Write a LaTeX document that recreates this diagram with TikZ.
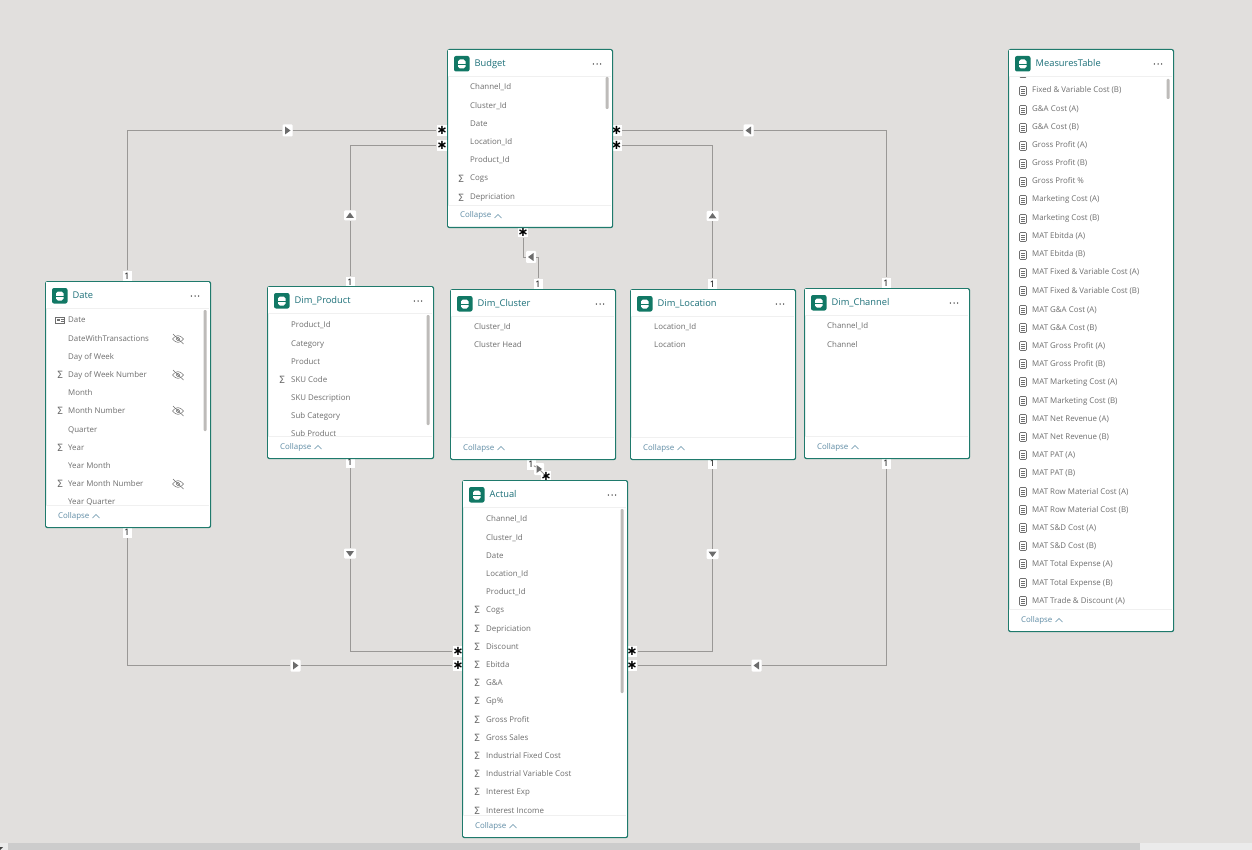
\documentclass[tikz,border=0pt]{standalone}
\usepackage{fontspec}
\setmainfont{Open Sans}
\newfontfamily\symfont{DejaVu Sans}
\definecolor{canvas}{HTML}{E1DFDD}
\definecolor{teal}{HTML}{1F7A6C}
\definecolor{iconteal}{HTML}{117865}
\definecolor{titlec}{HTML}{1B6F78}
\definecolor{rowc}{HTML}{6E6E6E}
\definecolor{linkc}{HTML}{9A9896}
\definecolor{barc}{HTML}{BDBBB9}
\definecolor{collc}{HTML}{5F8CA5}
\newcount\rc
\tikzset{
  x=1pt,y=-1pt,
  tblbox/.style={draw=teal,line width=1.2pt,fill=white,rounded corners=2pt,inner sep=0pt,anchor=north west},
  rowtext/.style={font=\fontsize{7.9}{9}\selectfont,text=rowc,inner sep=0pt,anchor=west,text height=6pt,text depth=2pt},
  titletext/.style={font=\fontsize{9.3}{11}\selectfont,text=titlec,inner sep=0pt,anchor=west,text height=7pt,text depth=2pt},
  colltext/.style={font=\fontsize{7.9}{9}\selectfont,text=collc,inner sep=0pt,anchor=west,text height=6pt,text depth=2pt},
  sigmatext/.style={font=\symfont\fontsize{10}{10}\selectfont,text=rowc,inner sep=0pt},
  rel/.style={draw=linkc,line width=0.9pt},
  onebadge/.style={fill=white,inner sep=0pt,minimum width=9pt,minimum height=11pt,font=\fontsize{9}{9}\selectfont,text=black},
  starbadge/.style={fill=white,inner sep=0pt,minimum width=10pt,minimum height=11pt,font=\symfont\bfseries\fontsize{13}{13}\selectfont,text=black},
  dirbox/.style={fill=white,inner sep=0pt,minimum width=10pt,minimum height=12pt,rounded corners=1pt},
  dirboxv/.style={fill=white,inner sep=0pt,minimum width=12pt,minimum height=10pt,rounded corners=1pt},
  tip/.style={fill=gray!85!black,draw=none},
  eyeline/.style={draw=rowc,line width=0.5pt},
}
\def\icnn#1#2{}
\def\icns#1#2{\global\advance\rc by 1 \node[sigmatext] (s\the\rc) at (#1,#2) {Σ};}
\def\icnc#1#2{%
  \draw[draw=rowc,line width=0.6pt,rounded corners=1pt] (#1-3.5,#2-4.5) rectangle (#1+3.5,#2+4.5);
  \draw[draw=rowc,line width=0.6pt] (#1-2,#2-2) -- (#1+2,#2-2) (#1-2,#2) -- (#1+2,#2) (#1-2,#2+2) -- (#1+2,#2+2);}
\def\icni#1#2{%
  \draw[draw=rowc,line width=0.6pt] (#1-4.5,#2-3) rectangle (#1+4.5,#2+3);
  \fill[rowc] (#1-3,#2-1.5) rectangle (#1-0.5,#2+1);
  \draw[draw=rowc,line width=0.5pt] (#1+0.5,#2-1) -- (#1+3.5,#2-1) (#1+0.5,#2+1) -- (#1+3.5,#2+1);}
% rows: text x, icon x, list y/icon/text
\newcommand\rowlist[3]{%
  \foreach \ry/\ric/\rtxt in {#3}{%
    \global\advance\rc by 1
    \node[rowtext] (r\the\rc) at (#1,\ry) {\rtxt};
    \csname icn\ric\endcsname{#2}{\ry}
  }}
\newcommand\eye[2]{%
  \draw[eyeline] (#1-5.5,#2) .. controls (#1-2,#2-4.5) and (#1+2,#2-4.5) .. (#1+5.5,#2) .. controls (#1+2,#2+4.5) and (#1-2,#2+4.5) .. (#1-5.5,#2);
  \draw[eyeline] (#1,#2) circle (1.7);
  \draw[eyeline] (#1-5,#2-5) -- (#1+5.5,#2+5);}
% box: name x1 y1 x2 y2
\newcommand\tblbox[5]{%
  \pgfmathsetmacro\bw{#4-#2}\pgfmathsetmacro\bh{#5-#3}
  \node[tblbox,minimum width=\bw pt,minimum height=\bh pt] (#1) at (#2,#3) {};}
% chrome: name x1 y1 x2 y2 title
\newcommand\tblchrome[6]{%
  \fill[white] (#2+1,#3+1) rectangle (#4-1,#3+27);
  \fill[white] (#2+1,#5-22) rectangle (#4-1,#5-1);
  \draw[draw=black!6,line width=0.6pt] (#2+1,#3+27) -- (#4-1,#3+27) (#2+1,#5-22) -- (#4-1,#5-22);
  \fill[iconteal,rounded corners=2pt] (#2+7,#3+7) rectangle (#2+22.5,#3+22.5);
  \fill[white,rounded corners=1.8pt] (#2+11,#3+10.5) rectangle (#2+18.5,#3+19.5);
  \draw[iconteal,line width=0.7pt] (#2+11,#3+15) -- (#2+18.5,#3+15);
  \node[titletext] (#1T) at (#2+27.5,#3+15) {#6};
  \foreach \dd in {-3.6,0,3.6} \fill[black!80] (#4-15+\dd,#3+15) circle (0.75);
  \node[colltext] (#1C) at (#2+13,#5-11) {Collapse};
  \draw[draw=collc,line width=0.5pt] (#2+47.5,#5-9) -- (#2+51,#5-12.5) -- (#2+54.5,#5-9);}
\newcommand\scrollb[3]{\fill[barc,rounded corners=1pt] (#1-1.5,#2) rectangle (#1+1.5,#3);}
\newcommand\tipR[2]{\fill[tip] (#1-2.5,#2-4) -- (#1+3,#2) -- (#1-2.5,#2+4) -- cycle;}
\newcommand\tipL[2]{\fill[tip] (#1+2.5,#2-4) -- (#1-3,#2) -- (#1+2.5,#2+4) -- cycle;}
\newcommand\tipU[2]{\fill[tip] (#1-4,#2+2.5) -- (#1,#2-3) -- (#1+4,#2+2.5) -- cycle;}
\newcommand\tipD[2]{\fill[tip] (#1-4,#2-2.5) -- (#1,#2+3) -- (#1+4,#2-2.5) -- cycle;}
\begin{document}
\begin{tikzpicture}
\useasboundingbox (0,0) rectangle (1252,850);
\fill[canvas] (0,0) rectangle (1252,850);
% bottom scroll bar
\fill[black!8] (0,843) rectangle (1252,850);
\fill[black!20] (8,843) rectangle (1140,850);
\fill[black!75] (0,847) -- (3,847) -- (0,850) -- cycle;

% badges
\node[starbadge] (bTL) at (442,130.5) {∗};
\node[starbadge] (bML) at (442,145.5) {∗};
\node[starbadge] (bTR) at (616.5,130.5) {∗};
\node[starbadge] (bMR) at (616.5,145.5) {∗};
\node[starbadge] (bB) at (523,232) {∗};
\node[onebadge] (dT) at (127,276) {1};
\node[onebadge] (dB) at (127,532.5) {1};
\node[onebadge] (pT) at (350,282) {1};
\node[onebadge] (pB) at (350,462.5) {1};
\node[onebadge] (cT) at (538,284) {1};
\node[onebadge] (lT) at (712.5,284) {1};
\node[onebadge] (lB) at (712.5,463.5) {1};
\node[onebadge] (hT) at (886,283) {1};
\node[onebadge] (hB) at (886,463) {1};
\node[starbadge] (aTL) at (458,651.5) {∗};
\node[starbadge] (aBL) at (458,665.5) {∗};
\node[starbadge] (aTR) at (632,651.5) {∗};
\node[starbadge] (aBR) at (632,665.5) {∗};
% direction boxes
\node[dirbox] (a1) at (287.5,130.5) {};
\node[dirboxv] (a2) at (350,215.5) {};
\node[dirbox] (a3) at (748.5,130.5) {};
\node[dirboxv] (a4) at (712.5,216) {};
\node[dirbox] (a5) at (531,257) {};
\node[dirbox] (a7) at (295.5,665.5) {};
\node[dirboxv] (a8) at (350,553.5) {};
\node[dirboxv] (a9) at (712.5,554) {};
\node[dirbox] (a10) at (756.5,665.5) {};
% connectors
\draw[rel] (dT) |- (a1); \draw[rel] (a1) -- (bTL);
\draw[rel] (pT) -- (a2); \draw[rel] (a2) |- (bML);
\draw[rel] (bTR) -- (a3); \draw[rel] (a3) -| (hT);
\draw[rel] (bMR) -| (a4); \draw[rel] (a4) -- (lT);
\draw[rel] (bB) |- (a5); \draw[rel] (a5) -| (cT);
\draw[rel] (dB) |- (a7); \draw[rel] (a7) -- (aBL);
\draw[rel] (pB) -- (a8); \draw[rel] (a8) |- (aTL);
\draw[rel] (lB) -- (a9); \draw[rel] (a9) |- (aTR);
\draw[rel] (hB) |- (a10); \draw[rel] (a10) -- (aBR);
\tipR{287.5}{130.5}\tipU{350}{215.5}\tipL{748.5}{130.5}\tipU{712.5}{216}\tipL{531}{257}
\tipR{295.5}{665.5}\tipD{350}{553.5}\tipD{712.5}{554}\tipL{756.5}{665.5}
% Dim_Cluster to Actual
\node[onebadge] (cB) at (531,464) {1};
\node[starbadge] (aT) at (546,476) {∗};
\node[dirbox] (a6) at (539,469) {};
\draw[rel] (cB) -- (a6);
\draw[rel] (a6) -- (aT);
\tipR{539}{469}

% Budget
\tblbox{budget}{447}{49}{612}{227}
\rowlist{470}{461}{88/n/Channel\_Id,107/n/Cluster\_Id,125/n/Date,143/n/Location\_Id,161/n/Product\_Id,179/s/Cogs,198/s/Depriciation}
\tblchrome{budget}{447}{49}{612}{227}{Budget}
\scrollb{607}{77}{109}

% Date
\tblbox{date}{45}{281}{210}{527}
\rowlist{68}{60}{320/i/Date,339/n/DateWithTransactions,357/n/Day of Week,375/s/Day of Week Number,393/n/Month,411/s/Month Number,430/n/Quarter,448/s/Year,466/n/Year Month,484/s/Year Month Number,502/n/Year Quarter}
\eye{178}{339}\eye{178}{375}\eye{178}{411}\eye{178}{484}
\tblchrome{date}{45}{281}{210}{527}{Date}
\scrollb{205}{310}{431}

% Dim_Product
\tblbox{prod}{267}{286}{433}{458}
\rowlist{291}{282}{325/n/Product\_Id,344/n/Category,362/n/Product,380/s/SKU Code,398/n/SKU Description,416/n/Sub Category,434/n/Sub Product}
\tblchrome{prod}{267}{286}{433}{458}{Dim\_Product}
\scrollb{428}{315}{425}

% Dim_Cluster
\tblbox{clus}{450}{289}{615}{459}
\rowlist{474}{465}{327/n/Cluster\_Id,345/n/Cluster Head}
\tblchrome{clus}{450}{289}{615}{459}{Dim\_Cluster}

% Dim_Location
\tblbox{loc}{630}{289}{795}{459}
\rowlist{654}{645}{327/n/Location\_Id,345/n/Location}
\tblchrome{loc}{630}{289}{795}{459}{Dim\_Location}

% Dim_Channel
\tblbox{chan}{804}{288}{969}{458}
\rowlist{827}{818}{326/n/Channel\_Id,345/n/Channel}
\tblchrome{chan}{804}{288}{969}{458}{Dim\_Channel}

% Actual
\tblbox{actual}{462}{480}{627}{837}
\rowlist{486}{477}{519/n/Channel\_Id,538/n/Cluster\_Id,556/n/Date,574/n/Location\_Id,592/n/Product\_Id,610/s/Cogs,629/s/Depriciation,647/s/Discount,665/s/Ebitda,683/s/G\&A,701/s/Gp\%,720/s/Gross Profit,738/s/Gross Sales,756/s/Industrial Fixed Cost,774/s/Industrial Variable Cost,792/s/Interest Exp,811/s/Interest Income}
\tblchrome{actual}{462}{480}{627}{837}{Actual}
\scrollb{622}{509}{693}

% MeasuresTable
\tblbox{meas}{1008}{49}{1173}{631}
\rowlist{1032}{1023}{73/c/Fixed \& Variable Cost (A),91/c/Fixed \& Variable Cost (B),110/c/G\&A Cost (A),128/c/G\&A Cost (B),146/c/Gross Profit (A),164/c/Gross Profit (B),182/c/Gross Profit \%,200/c/Marketing Cost (A),219/c/Marketing Cost (B),237/c/MAT Ebitda (A),255/c/MAT Ebitda (B),273/c/MAT Fixed \& Variable Cost (A),291/c/MAT Fixed \& Variable Cost (B),310/c/MAT G\&A Cost (A),328/c/MAT G\&A Cost (B),346/c/MAT Gross Profit (A),364/c/MAT Gross Profit (B),382/c/MAT Marketing Cost (A),401/c/MAT Marketing Cost (B),419/c/MAT Net Revenue (A),437/c/MAT Net Revenue (B),455/c/MAT PAT (A),473/c/MAT PAT (B),492/c/MAT Row Material Cost (A),510/c/MAT Row Material Cost (B),528/c/MAT S\&D Cost (A),546/c/MAT S\&D Cost (B),564/c/MAT Total Expense (A),583/c/MAT Total Expense (B),601/c/MAT Trade \& Discount (A)}
\tblchrome{meas}{1008}{49}{1173}{631}{MeasuresTable}
\scrollb{1168}{79}{99}
\end{tikzpicture}
\end{document}
